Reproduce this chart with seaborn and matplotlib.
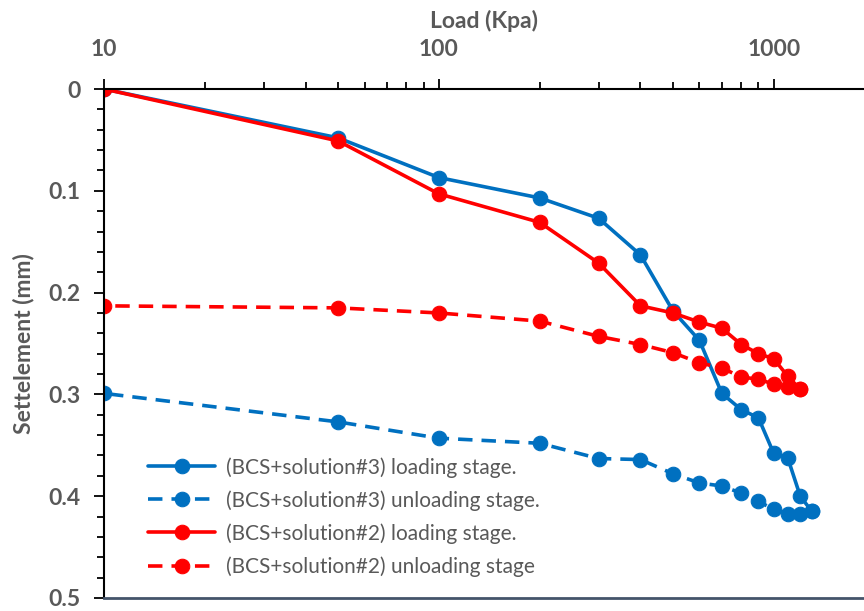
import matplotlib
matplotlib.use("Agg")
import matplotlib.pyplot as plt
import seaborn as sns
import pandas as pd
from matplotlib.ticker import FixedLocator, LogLocator, NullFormatter, FuncFormatter

sns.set_theme(style="white")
plt.rcParams['font.family'] = ['Lato', 'DejaVu Sans']

load_up_3 = [10, 50, 100, 200, 300, 400, 500, 600, 700, 800, 900, 1000, 1100, 1200, 1300]
settle_up_3 = [0.0, 0.048, 0.087, 0.107, 0.127, 0.163, 0.218, 0.247, 0.299, 0.315, 0.323, 0.358, 0.362, 0.400, 0.415]
load_down_3 = [1300, 1200, 1100, 1000, 900, 800, 700, 600, 500, 400, 300, 200, 100, 50, 10]
settle_down_3 = [0.415, 0.417, 0.417, 0.413, 0.405, 0.397, 0.390, 0.387, 0.378, 0.364, 0.363, 0.348, 0.343, 0.327, 0.299]

load_up_2 = [10, 50, 100, 200, 300, 400, 500, 600, 700, 800, 900, 1000, 1100, 1200]
settle_up_2 = [0.0, 0.051, 0.103, 0.131, 0.171, 0.213, 0.220, 0.229, 0.235, 0.251, 0.260, 0.265, 0.282, 0.295]
load_down_2 = [1200, 1100, 1000, 900, 800, 700, 600, 500, 400, 300, 200, 100, 50, 10]
settle_down_2 = [0.295, 0.293, 0.290, 0.285, 0.283, 0.274, 0.269, 0.259, 0.251, 0.243, 0.228, 0.220, 0.215, 0.213]

labels = ["(BCS+solution#3) loading stage.", "(BCS+solution#3) unloading stage.",
          "(BCS+solution#2) loading stage.", "(BCS+solution#2) unloading stage"]
x_ticks = [10, 100, 1000]
y_ticks = [0, 0.1, 0.2, 0.3, 0.4, 0.5]

BLUE = "#0070C0"
RED = "#FF0000"
GRAY = "#595959"

fig = plt.figure(figsize=(8.64, 6.11), dpi=100)
ax = fig.add_axes([104/864, 1-598/611, 1-104/864, (598-89)/611])

series = [
    (load_up_3, settle_up_3, labels[0], BLUE, "-"),
    (load_down_3, settle_down_3, labels[1], BLUE, (0, (4, 2.5))),
    (load_up_2, settle_up_2, labels[2], RED, "-"),
    (load_down_2, settle_down_2, labels[3], RED, (0, (4, 2.5))),
]
for xs, ys, lab, col, ls in series:
    df = pd.DataFrame({"load": xs, "settle": ys})
    sns.lineplot(data=df, x="load", y="settle", ax=ax, sort=False, color=col,
                 linewidth=2.6, linestyle=ls, marker="o", markersize=10.5,
                 markeredgecolor=col, markerfacecolor=col, label=lab, estimator=None)

ax.set_xscale("log")
ax.set_xlim(10, 1860)
ax.set_ylim(0.5, 0)

ax.xaxis.tick_top()
ax.xaxis.set_label_position("top")
ax.xaxis.set_major_locator(FixedLocator(x_ticks))
ax.xaxis.set_minor_locator(LogLocator(base=10, subs=range(2, 10)))
ax.xaxis.set_minor_formatter(NullFormatter())
ax.xaxis.set_major_formatter(FuncFormatter(lambda v, p: f"{int(v)}"))
ax.yaxis.set_major_locator(FixedLocator(y_ticks))
ax.yaxis.set_minor_locator(FixedLocator([i*0.02 for i in range(26)]))
ax.yaxis.set_major_formatter(FuncFormatter(lambda v, p: "0" if v == 0 else f"{v:.1f}"))

ax.tick_params(axis="x", which="major", direction="out", length=7, width=1.3, color="black",
               labelsize=16.5, labelcolor=GRAY, pad=14, top=True, bottom=False)
ax.tick_params(axis="x", which="minor", direction="out", length=5, width=1.3, color="black",
               top=True, bottom=False)
ax.tick_params(axis="y", which="major", direction="out", length=7, width=1.3, color="black",
               labelsize=16.5, labelcolor=GRAY, pad=10, left=True)
ax.tick_params(axis="y", which="minor", direction="out", length=5, width=1.3, color="black",
               left=True)
for t in ax.get_xticklabels() + ax.get_yticklabels():
    t.set_fontweight("bold")

for s in ["left", "top"]:
    ax.spines[s].set_color("black")
    ax.spines[s].set_linewidth(1.5)
ax.spines["right"].set_visible(False)
ax.spines["bottom"].set_color("#44546A")
ax.spines["bottom"].set_linewidth(2)

ax.set_xlabel("Load (Kpa)", fontsize=16.5, fontweight="bold", color=GRAY, labelpad=8)
ax.set_ylabel("Settelement (mm)", fontsize=16.5, fontweight="bold", color=GRAY)
ax.yaxis.set_label_coords(-0.092, 0.5)

leg = ax.legend(loc="lower left", bbox_to_anchor=(0.042, 0.017), frameon=False, fontsize=15,
                labelcolor=GRAY, handlelength=3.2, handletextpad=0.5, labelspacing=0.6,
                borderaxespad=0.2)

fig.savefig("out.png", dpi=100)
